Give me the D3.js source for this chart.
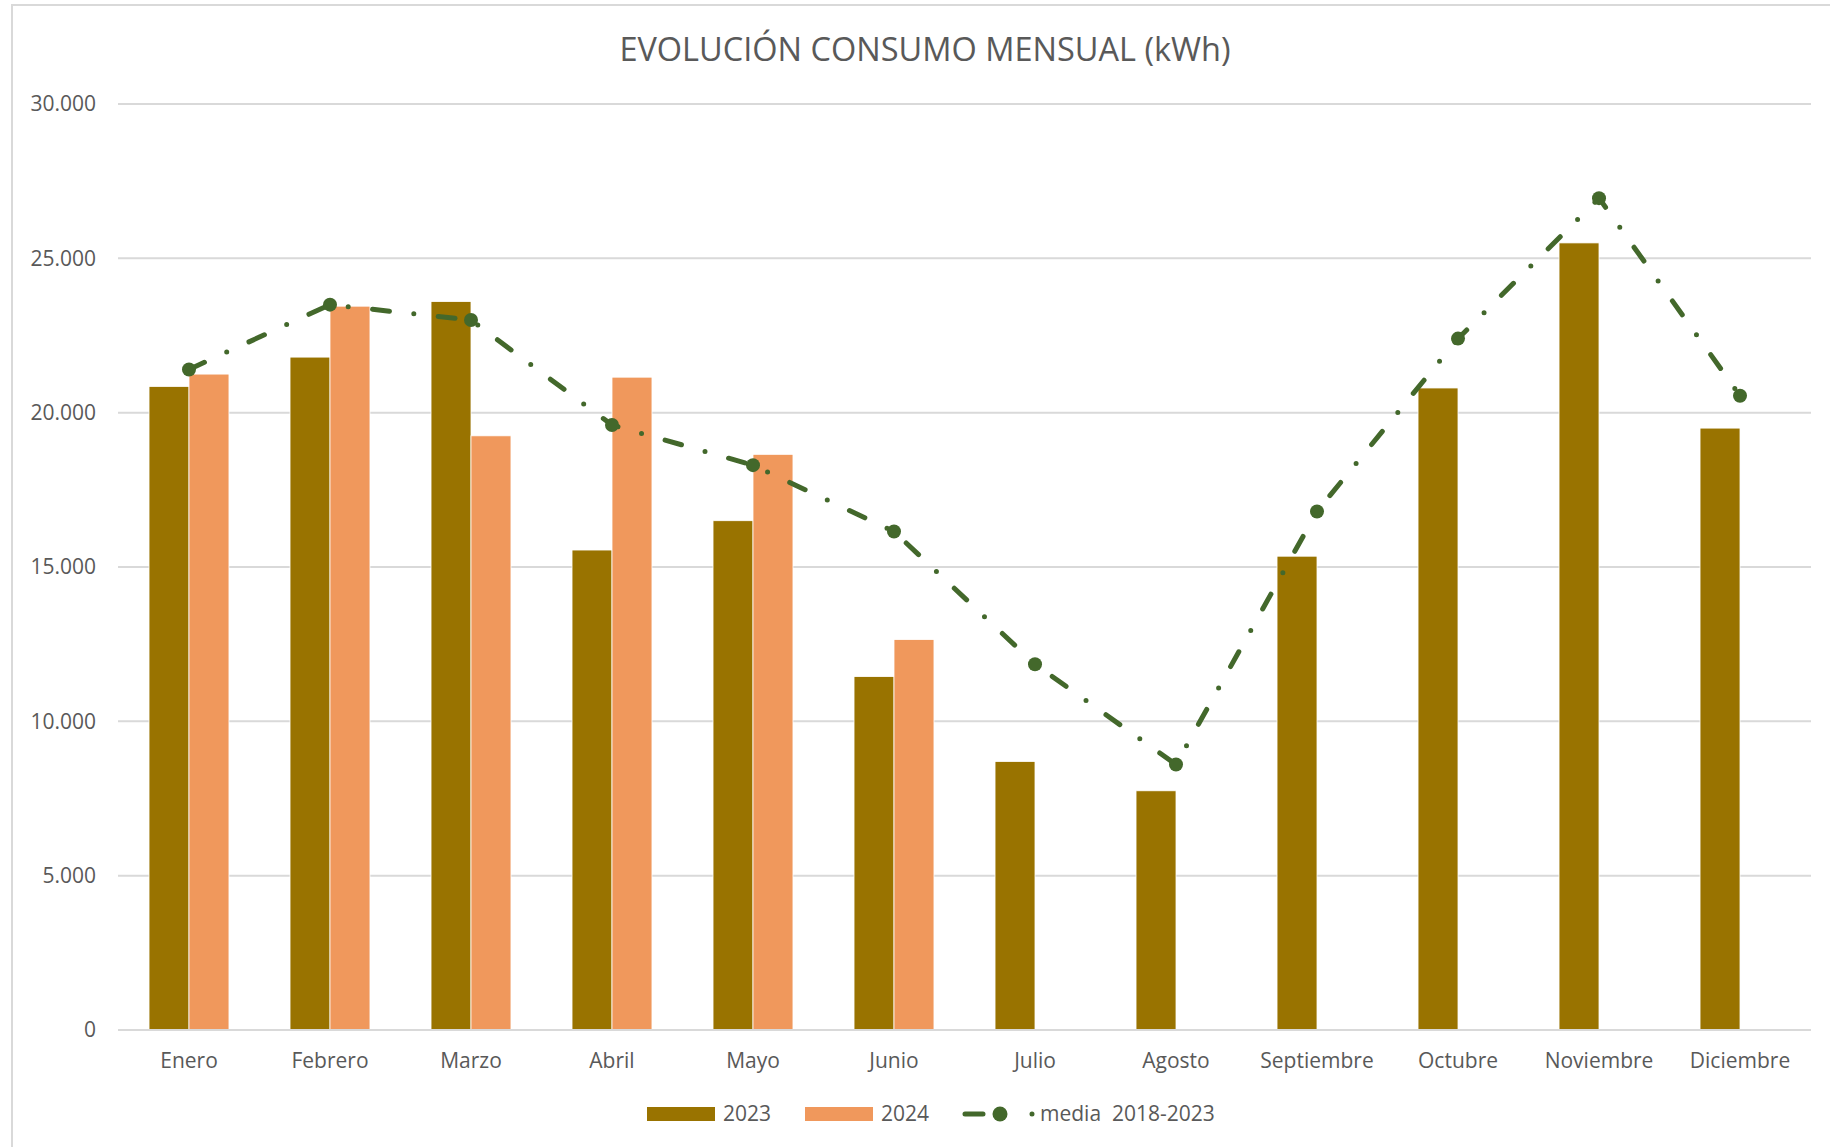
<!DOCTYPE html>
<html>
<head>
<meta charset="utf-8">
<script src="https://cdn.jsdelivr.net/npm/d3@7"></script>
<style>
  body { margin: 0; background: #fff; }
  text { font-family: "Open Sans", sans-serif; fill: #595959; }
</style>
</head>
<body>
<svg id="chart"></svg>
<script>
// data
const months = ["Enero", "Febrero", "Marzo", "Abril", "Mayo", "Junio", "Julio", "Agosto", "Septiembre", "Octubre", "Noviembre", "Diciembre"];
const consumo2023 = [20850, 21800, 23600, 15550, 16500, 11450, 8700, 7750, 15350, 20800, 25500, 19500];
const consumo2024 = [21250, 23450, 19250, 21150, 18650, 12650, null, null, null, null, null, null];
const media = [21400, 23500, 23000, 19600, 18300, 16150, 11850, 8600, 16800, 22400, 26950, 20550];
const yTicks = [0, 5000, 10000, 15000, 20000, 25000, 30000];
const seriesNames = ["2023", "2024"];

const width = 1830, height = 1147;
const margin = { top: 104, right: 19, bottom: 117, left: 118 };
const colors = { "2023": "#997300", "2024": "#F0985C" };
const lineColor = "#43682B";
const dashes = "17 24.5 0 24.5";

const svg = d3.select("#chart").attr("width", width).attr("height", height);

// chart border
svg.append("rect")
	.attr("x", 12).attr("y", 5)
	.attr("width", width).attr("height", height)
	.attr("fill", "none").attr("stroke", "#d9d9d9").attr("stroke-width", 2);

// title
svg.append("text")
	.attr("x", 925)
	.attr("y", 61)
	.attr("text-anchor", "middle")
	.style("font-size", "32.5px")
	.text("EVOLUCIÓN CONSUMO MENSUAL (kWh)");

const x0 = d3.scaleBand()
	.domain(months)
	.range([margin.left, width - margin.right])
	.paddingInner(0.433)
	.paddingOuter(0.22);

const x1 = d3.scaleBand().domain(seriesNames).range([0, x0.bandwidth()]);

const y = d3.scaleLinear().domain([0, 30000]).range([height - margin.bottom, margin.top]);

const es = d3.formatLocale({ decimal: ",", thousands: ".", grouping: [3], currency: ["", " €"] });

// gridlines
svg.append("g")
	.selectAll("line")
	.data(yTicks)
	.join("line")
	.attr("x1", margin.left)
	.attr("x2", width - margin.right)
	.attr("y1", (d) => y(d))
	.attr("y2", (d) => y(d))
	.attr("stroke", "#d9d9d9")
	.attr("stroke-width", 2);

// y axis labels
const yAxis = svg.append("g")
	.attr("transform", `translate(${margin.left},0)`)
	.call(d3.axisLeft(y).tickValues(yTicks).tickSize(0).tickPadding(22).tickFormat(es.format(",")));
yAxis.select(".domain").remove();
yAxis.selectAll("text").style("font-size", "21px").attr("fill", "#595959");

// bars
const rows = months.map((m, i) => ({ month: m, values: [
	{ key: "2023", value: consumo2023[i] },
	{ key: "2024", value: consumo2024[i] }
] }));

svg.append("g")
	.selectAll("g")
	.data(rows)
	.join("g")
	.attr("transform", (d) => `translate(${x0(d.month)},0)`)
	.selectAll("rect")
	.data((d) => d.values.filter((v) => v.value != null))
	.join("rect")
	.attr("x", (d) => x1(d.key))
	.attr("y", (d) => y(d.value))
	.attr("width", x1.bandwidth())
	.attr("height", (d) => y(0) - y(d.value))
	.attr("fill", (d) => colors[d.key])
	.attr("stroke", "#fff")
	.attr("stroke-width", 0.8);

// x axis
const xAxis = svg.append("g")
	.attr("transform", `translate(0,${y(0)})`)
	.call(d3.axisBottom(x0).tickSize(0).tickPadding(23));
xAxis.select(".domain").remove();
xAxis.selectAll("text").style("font-size", "21px").attr("fill", "#595959");

svg.append("line")
	.attr("x1", margin.left).attr("x2", width - margin.right)
	.attr("y1", y(0)).attr("y2", y(0))
	.attr("stroke", "#d9d9d9").attr("stroke-width", 2);

// media line
const cx = (i) => x0(months[i]) + x0.bandwidth() / 2;
const line = d3.line().x((d, i) => cx(i)).y((d) => y(d));

svg.append("path")
	.datum(media)
	.attr("d", line)
	.attr("fill", "none")
	.attr("stroke", lineColor)
	.attr("stroke-width", 5)
	.attr("stroke-linecap", "round")
	.attr("stroke-dasharray", dashes);

svg.append("g")
	.selectAll("circle")
	.data(media)
	.join("circle")
	.attr("cx", (d, i) => cx(i))
	.attr("cy", (d) => y(d))
	.attr("r", 7)
	.attr("fill", lineColor);

// legend
const legend = svg.append("g").style("font-size", "21px");
const lgY = 1114;
seriesNames.forEach((s, i) => {
	const lx = 647 + i * 158;
	legend.append("rect")
		.attr("x", lx).attr("y", lgY - 7)
		.attr("width", 68).attr("height", 14)
		.attr("fill", colors[s]);
	legend.append("text")
		.attr("x", lx + 76).attr("y", lgY + 7)
		.text(s);
});
legend.append("line")
	.attr("x1", 965).attr("x2", 1034)
	.attr("y1", lgY).attr("y2", lgY)
	.attr("stroke", lineColor)
	.attr("stroke-width", 5)
	.attr("stroke-linecap", "round")
	.attr("stroke-dasharray", "18 49 0 100");
legend.append("circle")
	.attr("cx", 1000).attr("cy", lgY).attr("r", 7.5).attr("fill", lineColor);
legend.append("text")
	.attr("x", 1040).attr("y", lgY + 7)
	.attr("xml:space", "preserve")
	.style("white-space", "pre")
	.text("media  2018-2023");
</script>
</body>
</html>
